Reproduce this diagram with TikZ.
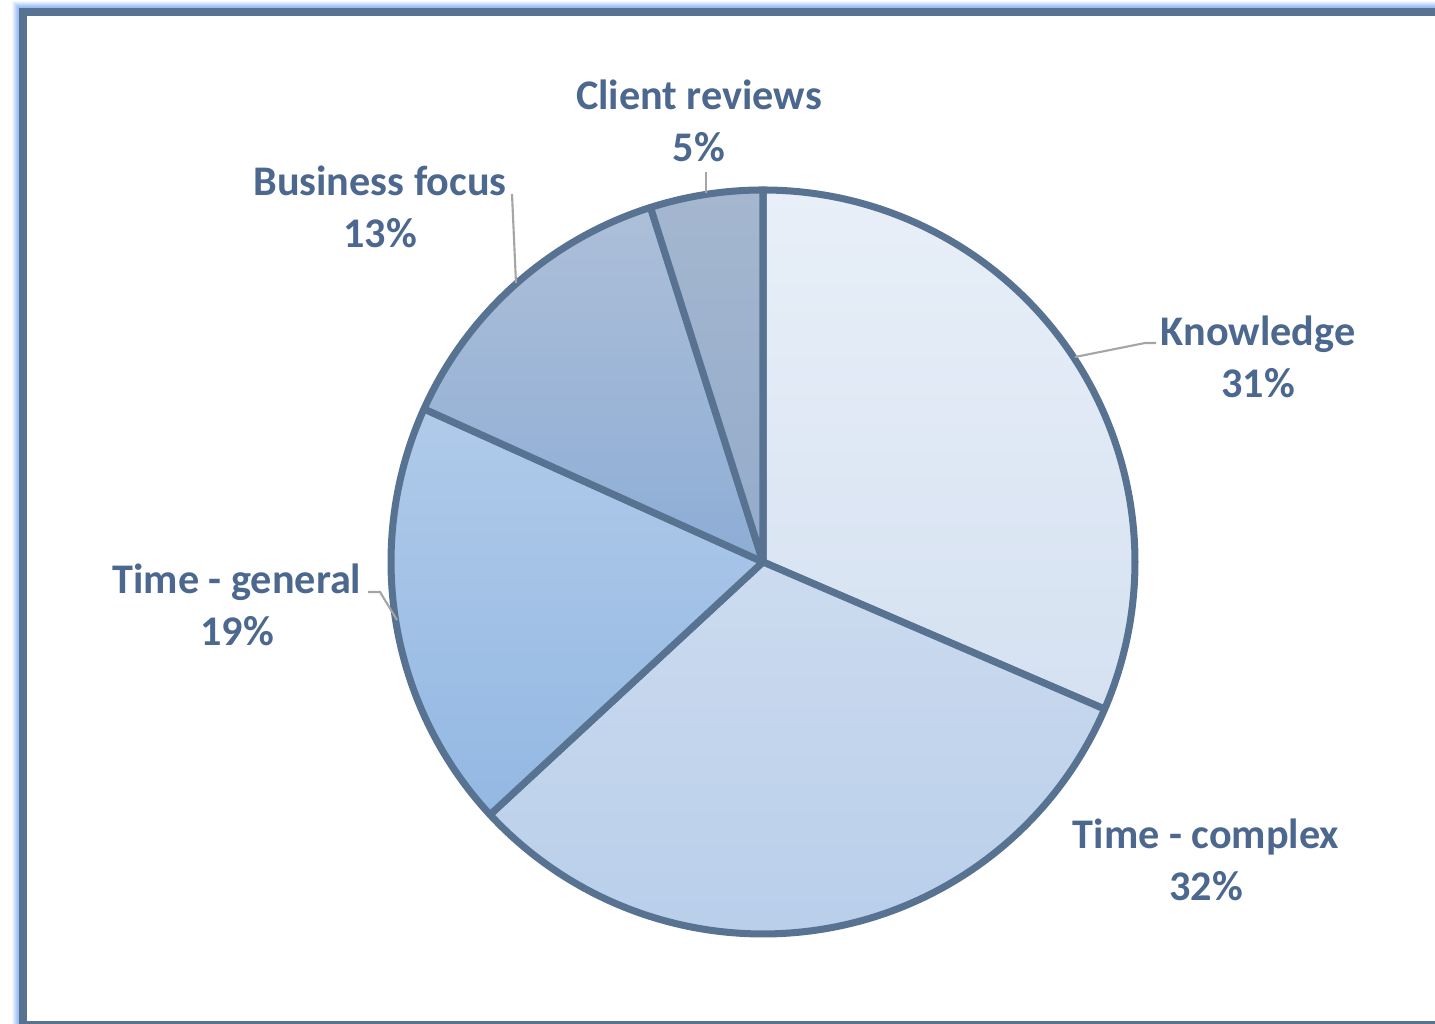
\documentclass[tikz,border=0pt]{standalone}
\usepackage{fontspec}
\setmainfont{Carlito}
\usetikzlibrary{positioning}

\definecolor{edgeblue}{RGB}{88,115,146}
\definecolor{textblue}{RGB}{76,104,143}
\definecolor{glowblue}{RGB}{155,188,245}
\definecolor{leadergray}{RGB}{165,165,165}
\definecolor{knA}{HTML}{E8EFF8}
\definecolor{knB}{HTML}{D5E1F1}
\definecolor{tcA}{HTML}{CCDBEF}
\definecolor{tcB}{HTML}{B8CEEA}
\definecolor{tgA}{HTML}{B0CAE9}
\definecolor{tgB}{HTML}{93B8E3}
\definecolor{bfA}{HTML}{ADBFD8}
\definecolor{bfB}{HTML}{8DADD6}
\definecolor{crA}{HTML}{A5B7CF}
\definecolor{crB}{HTML}{93ABCB}

\begin{document}
\begin{tikzpicture}[
    x=0.01cm, y=0.01cm,
    slice/.style={draw=edgeblue, line width=2pt, line join=round},
    lbl/.style={align=center, text=textblue, font=\bfseries\fontsize{12}{14.8}\selectfont, inner sep=0pt},
    leader/.style={draw=leadergray, line width=0.6pt},
]
\useasboundingbox (0,0) rectangle (1435,1024);

% Frame with glow
\foreach \d/\op in {1/1,2/0.9,3/0.75,4/0.6,5/0.42,6/0.25,7/0.12}
  \draw[glowblue, opacity=\op, line width=0.3pt] (19.5-\d,-30) rectangle (1500,1015.5+\d);
\draw[edgeblue, line width=2.28pt] (23,-1) rectangle (1500,1012);

% Pie
\coordinate (c) at (763,462);
\def\rad{372}
\path[slice, top color=knA, bottom color=knB] (c) -- ++(90:\rad) arc[start angle=90, end angle=-23.3, radius=\rad] -- cycle;
\path[slice, top color=tcA, bottom color=tcB] (c) -- ++(-23.3:\rad) arc[start angle=-23.3, end angle=-137.2, radius=\rad] -- cycle;
\path[slice, top color=tgA, bottom color=tgB] (c) -- ++(-137.2:\rad) arc[start angle=-137.2, end angle=-204.3, radius=\rad] -- cycle;
\path[slice, top color=bfA, bottom color=bfB] (c) -- ++(155.7:\rad) arc[start angle=155.7, end angle=107.6, radius=\rad] -- cycle;
\path[slice, top color=crA, bottom color=crB] (c) -- ++(107.6:\rad) arc[start angle=107.6, end angle=90, radius=\rad] -- cycle;

% Labels
\node[lbl] (client) at (699,903) {Client reviews\\5\%};
\node[lbl] (business) at (380,817) {Business focus\\13\%};
\node[lbl] (knowledge) at (1258,667) {Knowledge\\31\%};
\node[lbl] (general) at (237,419) {Time - general\\19\%};
\node[lbl] (complex) at (1206,164) {Time - complex\\32\%};

% Leader lines
\coordinate (kn-pie) at (1075,667);
\coordinate (kn-bend) at (1145,681);
\coordinate (kn-end) at (1156,681);
\coordinate (tg-end) at (368,432);
\coordinate (tg-bend) at (380,432);
\coordinate (tg-pie) at (397,404);
\coordinate (bf-end) at (512,830);
\coordinate (bf-pie) at (516,741);
\coordinate (cr-end) at (706,852);
\coordinate (cr-pie) at (706,831);

\draw[leader] (kn-pie) -- (kn-bend) -- (kn-end);
\draw[leader] (tg-end) -- (tg-bend) -- (tg-pie);
\draw[leader] (bf-end) -- (bf-pie);
\draw[leader] (cr-end) -- (cr-pie);

\end{tikzpicture}
\end{document}
